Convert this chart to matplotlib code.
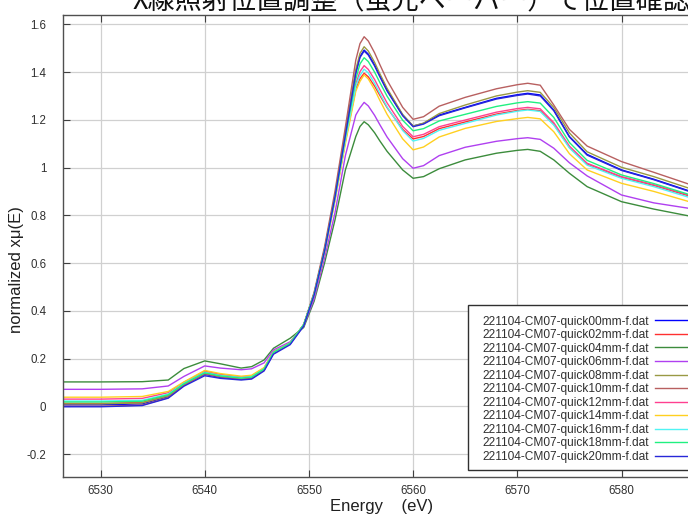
import numpy as np
import matplotlib
matplotlib.use("Agg")
import matplotlib.pyplot as plt
from matplotlib.patches import Rectangle

plt.rcParams['font.family'] = ['Liberation Sans', 'DejaVu Sans']

# energy grid (eV) shared by all scans
energy = [6526.4, 6530, 6534, 6536.5, 6538, 6540, 6541.5, 6543.5, 6544.5, 6545.7,
          6546.6, 6548.2, 6549.5, 6550.5, 6551.5, 6552.5, 6553.5, 6554.5, 6554.9, 6555.3,
          6555.7, 6556.3, 6556.8, 6557.5, 6559, 6560, 6561, 6562.5, 6565, 6568,
          6570, 6571, 6572.2, 6573.5, 6575, 6576.7, 6580, 6583.1, 6586.5]

mm00 = [0.006, 0.006, 0.010, 0.040, 0.089, 0.134, 0.121, 0.113, 0.117, 0.152, 0.222, 0.262,
        0.340, 0.470, 0.655, 0.880, 1.140, 1.400, 1.465, 1.492, 1.475, 1.430, 1.385, 1.325,
        1.220, 1.174, 1.185, 1.220, 1.252, 1.290, 1.305, 1.311, 1.304, 1.241, 1.130, 1.055,
        0.990, 0.951, 0.902]
mm02 = [0.012, 0.012, 0.016, 0.046, 0.095, 0.148, 0.133, 0.122, 0.126, 0.160, 0.228, 0.265,
        0.342, 0.468, 0.646, 0.865, 1.110, 1.330, 1.372, 1.395, 1.380, 1.341, 1.303, 1.251,
        1.160, 1.120, 1.130, 1.163, 1.191, 1.224, 1.239, 1.244, 1.238, 1.181, 1.085, 1.015,
        0.959, 0.925, 0.881]
mm04 = [0.102, 0.102, 0.103, 0.110, 0.158, 0.190, 0.178, 0.160, 0.166, 0.194, 0.243, 0.285,
        0.330, 0.440, 0.600, 0.780, 0.990, 1.130, 1.172, 1.192, 1.179, 1.146, 1.112, 1.068,
        0.990, 0.955, 0.962, 0.995, 1.032, 1.060, 1.072, 1.076, 1.068, 1.032, 0.976, 0.920,
        0.857, 0.826, 0.797]
mm06 = [0.071, 0.071, 0.073, 0.085, 0.125, 0.169, 0.160, 0.153, 0.157, 0.182, 0.236, 0.270,
        0.336, 0.450, 0.620, 0.810, 1.050, 1.220, 1.250, 1.273, 1.258, 1.219, 1.180, 1.128,
        1.037, 0.997, 1.008, 1.050, 1.085, 1.110, 1.121, 1.125, 1.118, 1.081, 1.020, 0.965,
        0.885, 0.852, 0.829]
mm08 = [0.010, 0.010, 0.014, 0.043, 0.091, 0.138, 0.125, 0.116, 0.120, 0.155, 0.225, 0.264,
        0.342, 0.472, 0.658, 0.885, 1.150, 1.410, 1.478, 1.506, 1.488, 1.441, 1.394, 1.332,
        1.222, 1.174, 1.186, 1.226, 1.262, 1.300, 1.316, 1.322, 1.315, 1.252, 1.145, 1.066,
        1.001, 0.962, 0.913]
mm10 = [0.000, 0.000, 0.005, 0.036, 0.087, 0.136, 0.123, 0.114, 0.118, 0.153, 0.224, 0.263,
        0.342, 0.478, 0.668, 0.900, 1.170, 1.450, 1.519, 1.548, 1.530, 1.481, 1.432, 1.366,
        1.252, 1.202, 1.213, 1.257, 1.294, 1.330, 1.347, 1.353, 1.345, 1.262, 1.160, 1.090,
        1.025, 0.980, 0.930]
mm12 = [0.030, 0.030, 0.033, 0.057, 0.100, 0.145, 0.132, 0.122, 0.126, 0.159, 0.228, 0.265,
        0.342, 0.468, 0.648, 0.870, 1.120, 1.350, 1.402, 1.427, 1.411, 1.369, 1.327, 1.271,
        1.172, 1.129, 1.139, 1.171, 1.199, 1.232, 1.247, 1.252, 1.246, 1.188, 1.090, 1.018,
        0.962, 0.928, 0.884]
mm14 = [0.038, 0.038, 0.041, 0.062, 0.102, 0.150, 0.137, 0.126, 0.130, 0.162, 0.228, 0.265,
        0.340, 0.465, 0.642, 0.860, 1.100, 1.320, 1.361, 1.388, 1.371, 1.327, 1.282, 1.223,
        1.120, 1.074, 1.086, 1.128, 1.164, 1.193, 1.205, 1.210, 1.204, 1.150, 1.058, 0.990,
        0.934, 0.900, 0.857]
mm16 = [0.022, 0.022, 0.025, 0.051, 0.096, 0.142, 0.129, 0.120, 0.124, 0.157, 0.226, 0.264,
        0.341, 0.468, 0.648, 0.868, 1.115, 1.340, 1.386, 1.412, 1.396, 1.353, 1.311, 1.254,
        1.155, 1.111, 1.122, 1.156, 1.185, 1.220, 1.236, 1.241, 1.235, 1.178, 1.082, 1.010,
        0.955, 0.920, 0.875]
mm18 = [0.018, 0.018, 0.021, 0.048, 0.094, 0.140, 0.127, 0.118, 0.122, 0.156, 0.226, 0.264,
        0.342, 0.470, 0.652, 0.875, 1.130, 1.370, 1.434, 1.460, 1.444, 1.400, 1.357, 1.299,
        1.198, 1.154, 1.163, 1.195, 1.223, 1.256, 1.271, 1.276, 1.270, 1.210, 1.105, 1.030,
        0.969, 0.933, 0.887]
mm20 = [-0.002, -0.002, 0.003, 0.034, 0.084, 0.128, 0.117, 0.110, 0.114, 0.148, 0.218, 0.258,
        0.336, 0.466, 0.650, 0.876, 1.135, 1.395, 1.461, 1.488, 1.471, 1.426, 1.381, 1.321,
        1.217, 1.171, 1.182, 1.217, 1.250, 1.287, 1.302, 1.308, 1.300, 1.238, 1.128, 1.052,
        0.988, 0.949, 0.900]

series = [mm00, mm02, mm04, mm06, mm08, mm10, mm12, mm14, mm16, mm18, mm20]
names = ['221104-CM07-quick%02dmm-f.dat' % d for d in range(0, 21, 2)]
colors = ['#0000ff', '#ff3030', '#3c8c3c', '#b040f0', '#999944', '#b86060',
          '#ff4090', '#ffd020', '#50f4f4', '#20f080', '#2828d8']

yticks = [-0.2, 0, 0.2, 0.4, 0.6, 0.8, 1, 1.2, 1.4, 1.6]
yticklabels = ['-0.2', '0', '0.2', '0.4', '0.6', '0.8', '1', '1.2', '1.4', '1.6']
xticks = [6530, 6540, 6550, 6560, 6570, 6580]

W, H = 688, 516
fig = plt.figure(figsize=(W / 100, H / 100), dpi=100)
ax = fig.add_axes([63 / W, (H - 476.7) / H, 657 / W, (476.7 - 15) / H])

lines = []
for ys, c in zip(series, colors):
    ln, = ax.plot(energy, ys, color=c, lw=1.0)
    lines.append(ln)

ax.set_xlim(6526.4, 6526.4 + 657 / 10.42)
ax.set_ylim(-0.295, 1.639)
ax.set_xticks(xticks)
ax.set_yticks(yticks)
ax.set_yticklabels(yticklabels)
ax.grid(True, color='#d0d0d0', lw=0.9)
ax.set_axisbelow(True)
ax.tick_params(direction='in', length=5, width=0.8, color='#404040',
               top=True, right=True, labelsize=8.3, labelcolor='#303030')
ax.tick_params(axis='y', pad=12)
ax.tick_params(axis='x', pad=6)
for s in ax.spines.values():
    s.set_color('#505050')
    s.set_linewidth(1.0)

fig.text(17 / W, 1 - 270 / H, 'normalized xμ(E)', rotation=90, ha='center', va='center',
         fontsize=12, color='#202020')
fig.text(382 / W, 1 - 506 / H, 'Energy    (eV)', ha='center', va='center',
         fontsize=12, color='#202020')
fig.text(133 / W, 1 - 1 / H, 'X線照射位置調整（蛍光ペーパー）で位置確認', ha='left', va='center',
         fontsize=19.5, family=['Noto Sans CJK JP', 'DejaVu Sans'], color='#101010')

# legend box drawn separately (gnuplot style, runs off the right edge)
box = Rectangle((468 / W, 1 - 470 / H), 0.4, 165 / H, transform=fig.transFigure,
                facecolor='white', edgecolor='#303030', lw=1.0, zorder=3)
fig.patches.append(box)
leg = fig.legend(lines, names, loc='upper left', bbox_to_anchor=(482 / W, 1 - 315.5 / H),
                 bbox_transform=fig.transFigure, frameon=False, borderpad=0,
                 borderaxespad=0, markerfirst=False, handlelength=3.3,
                 handletextpad=0.5, labelspacing=0.13, fontsize=8.6)
leg.set_zorder(5)
for t in leg.get_texts():
    t.set_color('#303030')

fig.savefig('out.png', dpi=100)
